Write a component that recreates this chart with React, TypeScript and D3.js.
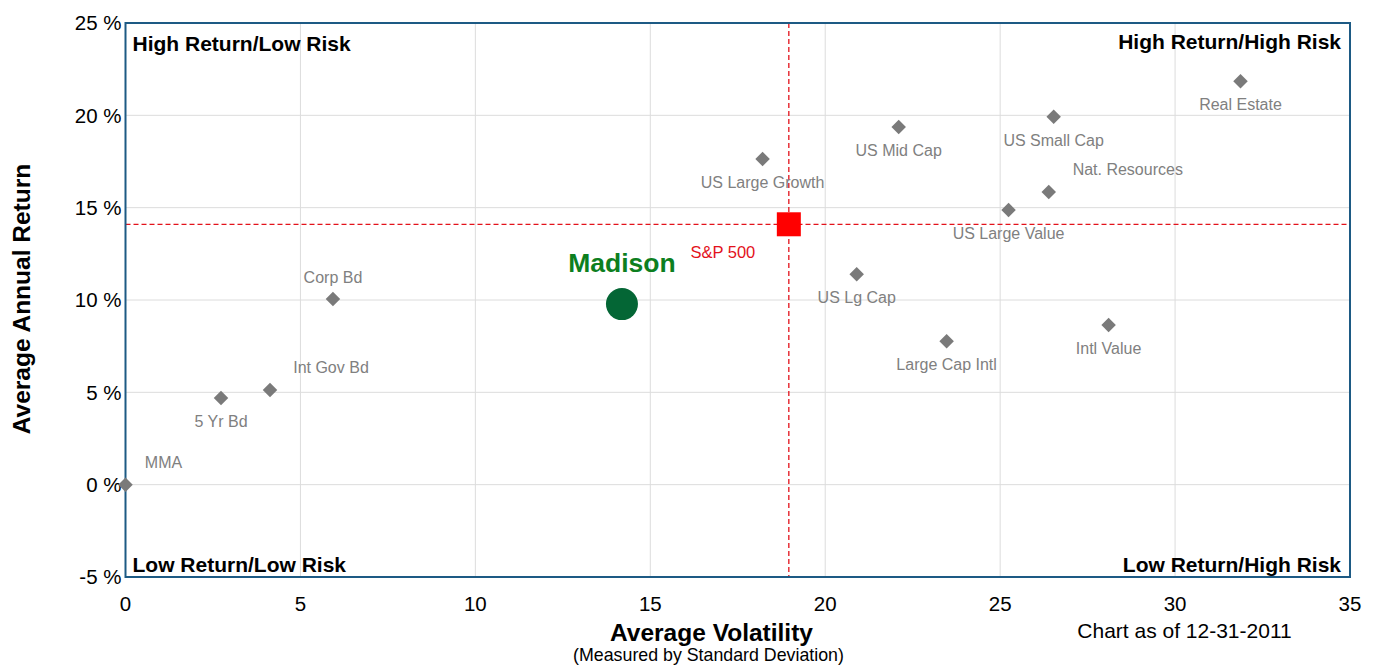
import React, { useRef, useEffect } from 'react';
import * as d3 from 'd3';

// asset classes (volatility %, annual return %)
const assetNames = ['MMA', '5 Yr Bd', 'Int Gov Bd', 'Corp Bd', 'US Large Growth', 'US Mid Cap', 'US Lg Cap',
  'Large Cap Intl', 'US Small Cap', 'Real Estate', 'Nat. Resources', 'US Large Value', 'Intl Value'];
const assetVolatility = [0, 2.73, 4.13, 5.93, 18.21, 22.1, 20.9, 23.47, 26.53, 31.87, 26.39, 25.24, 28.1];
const assetReturn = [0, 4.69, 5.13, 10.05, 17.63, 19.37, 11.4, 7.76, 19.92, 21.85, 15.85, 14.87, 8.65];

const madison = { name: 'Madison', volatility: 14.19, ret: 9.78 };
const benchmark = { name: 'S&P 500', volatility: 18.96, ret: 14.1 };

const xTicks = [0, 5, 10, 15, 20, 25, 30, 35];
const yTicks = [-5, 0, 5, 10, 15, 20, 25];

// where each label sits relative to its marker (default: below)
const labelShift: Record<string, number> = {
  'MMA': 38,
  'Int Gov Bd': 61,
  'Nat. Resources': 79,
  'Corp Bd': 0,
};

const App = () => {
  const svgRef = useRef<SVGSVGElement>(null);

  useEffect(() => {
    const width = 1373;
    const height = 665;
    const margin = { top: 23, right: 23, bottom: 88, left: 125.5 };
    const w = width - margin.left - margin.right;
    const h = height - margin.top - margin.bottom;
    const font = 'Liberation Sans, Arial, sans-serif';

    const root = d3.select(svgRef.current);
    root.selectAll('*').remove();
    root.attr('width', width).attr('height', height);

    const svg = root.append('g').attr('transform', `translate(${margin.left},${margin.top})`);

    const x = d3.scaleLinear().domain([0, 35]).range([0, w]);
    const y = d3.scaleLinear().domain([-5, 25]).range([h, 0]);

    // grid
    svg.append('g')
      .selectAll('line')
      .data(xTicks)
      .join('line')
      .attr('x1', d => x(d)).attr('x2', d => x(d))
      .attr('y1', 0).attr('y2', h)
      .attr('stroke', '#dcdcdc');
    svg.append('g')
      .selectAll('line')
      .data(yTicks)
      .join('line')
      .attr('x1', 0).attr('x2', w)
      .attr('y1', d => y(d)).attr('y2', d => y(d))
      .attr('stroke', '#dcdcdc');

    // tick labels
    svg.append('g')
      .selectAll('text')
      .data(yTicks)
      .join('text')
      .attr('x', -4)
      .attr('y', d => y(d))
      .attr('dy', '0.35em')
      .attr('text-anchor', 'end')
      .style('font-family', font)
      .style('font-size', '20.5px')
      .text(d => `${d} %`);
    svg.append('g')
      .selectAll('text')
      .data(xTicks)
      .join('text')
      .attr('x', d => x(d))
      .attr('y', h + 34)
      .attr('text-anchor', 'middle')
      .style('font-family', font)
      .style('font-size', '20.5px')
      .text(d => d);

    // benchmark cross lines
    svg.append('line')
      .attr('x1', 0).attr('x2', w)
      .attr('y1', y(benchmark.ret)).attr('y2', y(benchmark.ret))
      .attr('stroke', '#e3121b').attr('stroke-width', 1.3).attr('stroke-dasharray', '5,3');
    svg.append('line')
      .attr('x1', x(benchmark.volatility)).attr('x2', x(benchmark.volatility))
      .attr('y1', 0).attr('y2', h)
      .attr('stroke', '#e3121b').attr('stroke-width', 1.3).attr('stroke-dasharray', '5,3');

    // frame
    svg.append('rect')
      .attr('width', w).attr('height', h)
      .attr('fill', 'none')
      .attr('stroke', '#1d5a84').attr('stroke-width', 2);

    // quadrant labels
    const quad = [
      { t: 'High Return/Low Risk', x: 7, y: 27.5, a: 'start' },
      { t: 'High Return/High Risk', x: w - 9, y: 25.5, a: 'end' },
      { t: 'Low Return/Low Risk', x: 7, y: h - 5.5, a: 'start' },
      { t: 'Low Return/High Risk', x: w - 9, y: h - 5.5, a: 'end' },
    ];
    svg.append('g')
      .selectAll('text')
      .data(quad)
      .join('text')
      .attr('x', d => d.x).attr('y', d => d.y)
      .attr('text-anchor', d => d.a)
      .style('font-family', font)
      .style('font-size', '21px')
      .style('font-weight', 'bold')
      .text(d => d.t);

    // asset markers
    const assets = assetNames.map((n, i) => ({ name: n, vx: assetVolatility[i], vy: assetReturn[i] }));
    const diamond = d3.symbol().type(d3.symbolSquare).size(105);
    const pts = svg.append('g')
      .selectAll('g')
      .data(assets)
      .join('g')
      .attr('transform', d => `translate(${x(d.vx)},${y(d.vy)})`);
    pts.append('path')
      .attr('d', diamond)
      .attr('transform', 'rotate(45)')
      .attr('fill', '#7a7a7a');
    pts.append('text')
      .attr('x', d => labelShift[d.name] ?? 0)
      .attr('y', d => (d.name in labelShift ? -16.5 : 29))
      .attr('text-anchor', 'middle')
      .attr('fill', '#808080')
      .style('font-family', font)
      .style('font-size', '16px')
      .text(d => d.name);

    // Madison
    svg.append('circle')
      .attr('cx', x(madison.volatility)).attr('cy', y(madison.ret))
      .attr('r', 16)
      .attr('fill', '#046635');
    svg.append('text')
      .attr('x', x(madison.volatility)).attr('y', y(madison.ret) - 32)
      .attr('text-anchor', 'middle')
      .attr('fill', '#0d7f1f')
      .style('font-family', font)
      .style('font-size', '26.5px')
      .style('font-weight', 'bold')
      .text(madison.name);

    // S&P 500
    svg.append('rect')
      .attr('x', x(benchmark.volatility) - 12).attr('y', y(benchmark.ret) - 12)
      .attr('width', 24).attr('height', 24)
      .attr('fill', '#ff0000');
    svg.append('text')
      .attr('x', x(benchmark.volatility) - 66).attr('y', y(benchmark.ret) + 34)
      .attr('text-anchor', 'middle')
      .attr('fill', '#e3121b')
      .style('font-family', font)
      .style('font-size', '16.5px')
      .text(benchmark.name);

    // axis titles
    svg.append('text')
      .attr('transform', 'rotate(-90)')
      .attr('x', -(299 - margin.top))
      .attr('y', -96)
      .attr('text-anchor', 'middle')
      .style('font-family', font)
      .style('font-size', '24.5px')
      .style('font-weight', 'bold')
      .text('Average Annual Return');
    svg.append('text')
      .attr('x', 586).attr('y', h + 64)
      .attr('text-anchor', 'middle')
      .style('font-family', font)
      .style('font-size', '24.5px')
      .style('font-weight', 'bold')
      .text('Average Volatility');
    svg.append('text')
      .attr('x', 583).attr('y', h + 84)
      .attr('text-anchor', 'middle')
      .style('font-family', font)
      .style('font-size', '17.8px')
      .text('(Measured by Standard Deviation)');
    svg.append('text')
      .attr('x', 1059).attr('y', h + 61)
      .attr('text-anchor', 'middle')
      .style('font-family', font)
      .style('font-size', '21px')
      .text('Chart as of 12-31-2011');
  }, []);

  return <svg ref={svgRef} style={{ position: 'absolute', left: 0, top: 0 }}></svg>;
};

export default App;
